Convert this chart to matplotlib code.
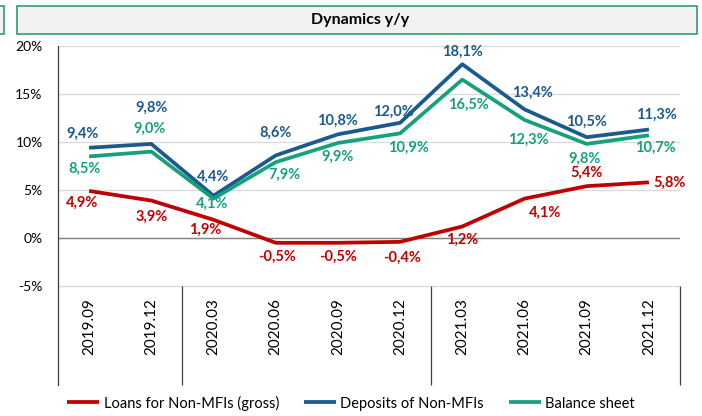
import matplotlib.pyplot as plt
from matplotlib.patches import Rectangle

plt.rcParams['font.family'] = ['Lato', 'DejaVu Sans']

# data
quarters = ['2019.09', '2019.12', '2020.03', '2020.06', '2020.09', '2020.12',
            '2021.03', '2021.06', '2021.09', '2021.12']
loans = [4.9, 3.9, 1.9, -0.5, -0.5, -0.4, 1.2, 4.1, 5.4, 5.8]
deposits = [9.4, 9.8, 4.4, 8.6, 10.8, 12.0, 18.1, 13.4, 10.5, 11.3]
balance = [8.5, 9.0, 4.1, 7.9, 9.9, 10.9, 16.5, 12.3, 9.8, 10.7]
yticks = [-5, 0, 5, 10, 15, 20]

# data label offsets in pixels (dx, dy), placed by hand like in the source
loans_off = [(-7, -12), (0, -16), (-8, -10), (1, -14), (0, -14), (2, -16),
             (0, -13), (21, -14), (0, 13), None]
deposits_off = [(-7, 14), (0, 36), (0, 19), (0, 23), (0, 14), (-7, 11),
                (0, 12), (8, 17), (0, 15), (8, 15)]
balance_off = [(-5, -12), (-2, 23), (-1, -5), (9, -13), (0, -14), (8, -14),
               (6, -25), (4, -20), (-2, -15), (6, -13)]

RED = '#C00000'
BLUE = '#1A5A8C'
GREEN = '#17A07E'

W, H = 702, 416
fig = plt.figure(figsize=(W / 100, H / 100), dpi=100)

# title box
fig.patches.append(Rectangle((17 / W, 1 - 34 / H), 680 / W, 28 / H, transform=fig.transFigure,
                             facecolor='#F2F2F2', edgecolor='#2E9E70', lw=1.2))
fig.patches.append(Rectangle((-6 / W, 1 - 34 / H), 10 / W, 28 / H, transform=fig.transFigure,
                             facecolor='#F2F2F2', edgecolor='#2E9E70', lw=1.2))
fig.text(360 / W, 1 - 20 / H, 'Dynamics y/y', ha='center', va='center',
         fontsize=11.5, fontweight='bold')

# axes stretched down so the category strip lives inside it
top_px, bot_px, left_px, right_px = 46, 385, 58, 680
ax = fig.add_axes([left_px / W, 1 - bot_px / H, (right_px - left_px) / W, (bot_px - top_px) / H])
per5 = (286 - 46) / 25.0  # pixels per percentage point
ymin = -5 - (bot_px - 286) / per5
ax.set_ylim(ymin, 20)
ax.set_xlim(-0.5, len(quarters) - 0.5)

for s in ['top', 'right', 'bottom']:
    ax.spines[s].set_visible(False)
ax.spines['left'].set_color('#404040')
ax.spines['left'].set_linewidth(0.9)

ax.set_yticks(yticks)
ax.set_yticklabels(['%d%%' % v for v in yticks], fontsize=10)
ax.tick_params(axis='y', length=0, pad=11)
ax.set_xticks([])
for v in yticks:
    ax.axhline(v, color='#D9D9D9', lw=0.9, zorder=0)
ax.axhline(0, color='#808080', lw=1.0, zorder=1)

# year separators in the category strip
ax.vlines([1.5, 5.5, len(quarters) - 0.5], ymin, -5, color='#404040', lw=0.9, clip_on=False)
for i, q in enumerate(quarters):
    ax.annotate(q, (i, -5), xytext=(0, -12), textcoords='offset pixels', rotation=90,
                ha='center', va='top', fontsize=11)

x = list(range(len(quarters)))
ax.plot(x, loans, color=RED, lw=2.7, label='Loans for Non-MFIs (gross)', solid_capstyle='butt')
ax.plot(x, deposits, color=BLUE, lw=2.7, label='Deposits of Non-MFIs', solid_capstyle='butt')
ax.plot(x, balance, color=GREEN, lw=2.7, label='Balance sheet', solid_capstyle='butt')


def put_labels(vals, offs, color):
    for i, (v, o) in enumerate(zip(vals, offs)):
        txt = ('%.1f%%' % v).replace('.', ',')
        if o is None:
            o, ha = (4, 0), 'left'
        else:
            ha = 'center'
        ax.annotate(txt, (i, v), xytext=o, textcoords='offset pixels', ha=ha, va='center',
                    color=color, fontsize=10.5, fontweight='bold', annotation_clip=False)


put_labels(loans, loans_off, RED)
put_labels(deposits, deposits_off, BLUE)
put_labels(balance, balance_off, GREEN)

fig.legend(loc='center', bbox_to_anchor=(0.5, 1 - 403 / H), ncol=3, frameon=False,
           fontsize=10.5, handlelength=2.2, handletextpad=0.3, columnspacing=1.7)

fig.savefig('out.png', dpi=100)
